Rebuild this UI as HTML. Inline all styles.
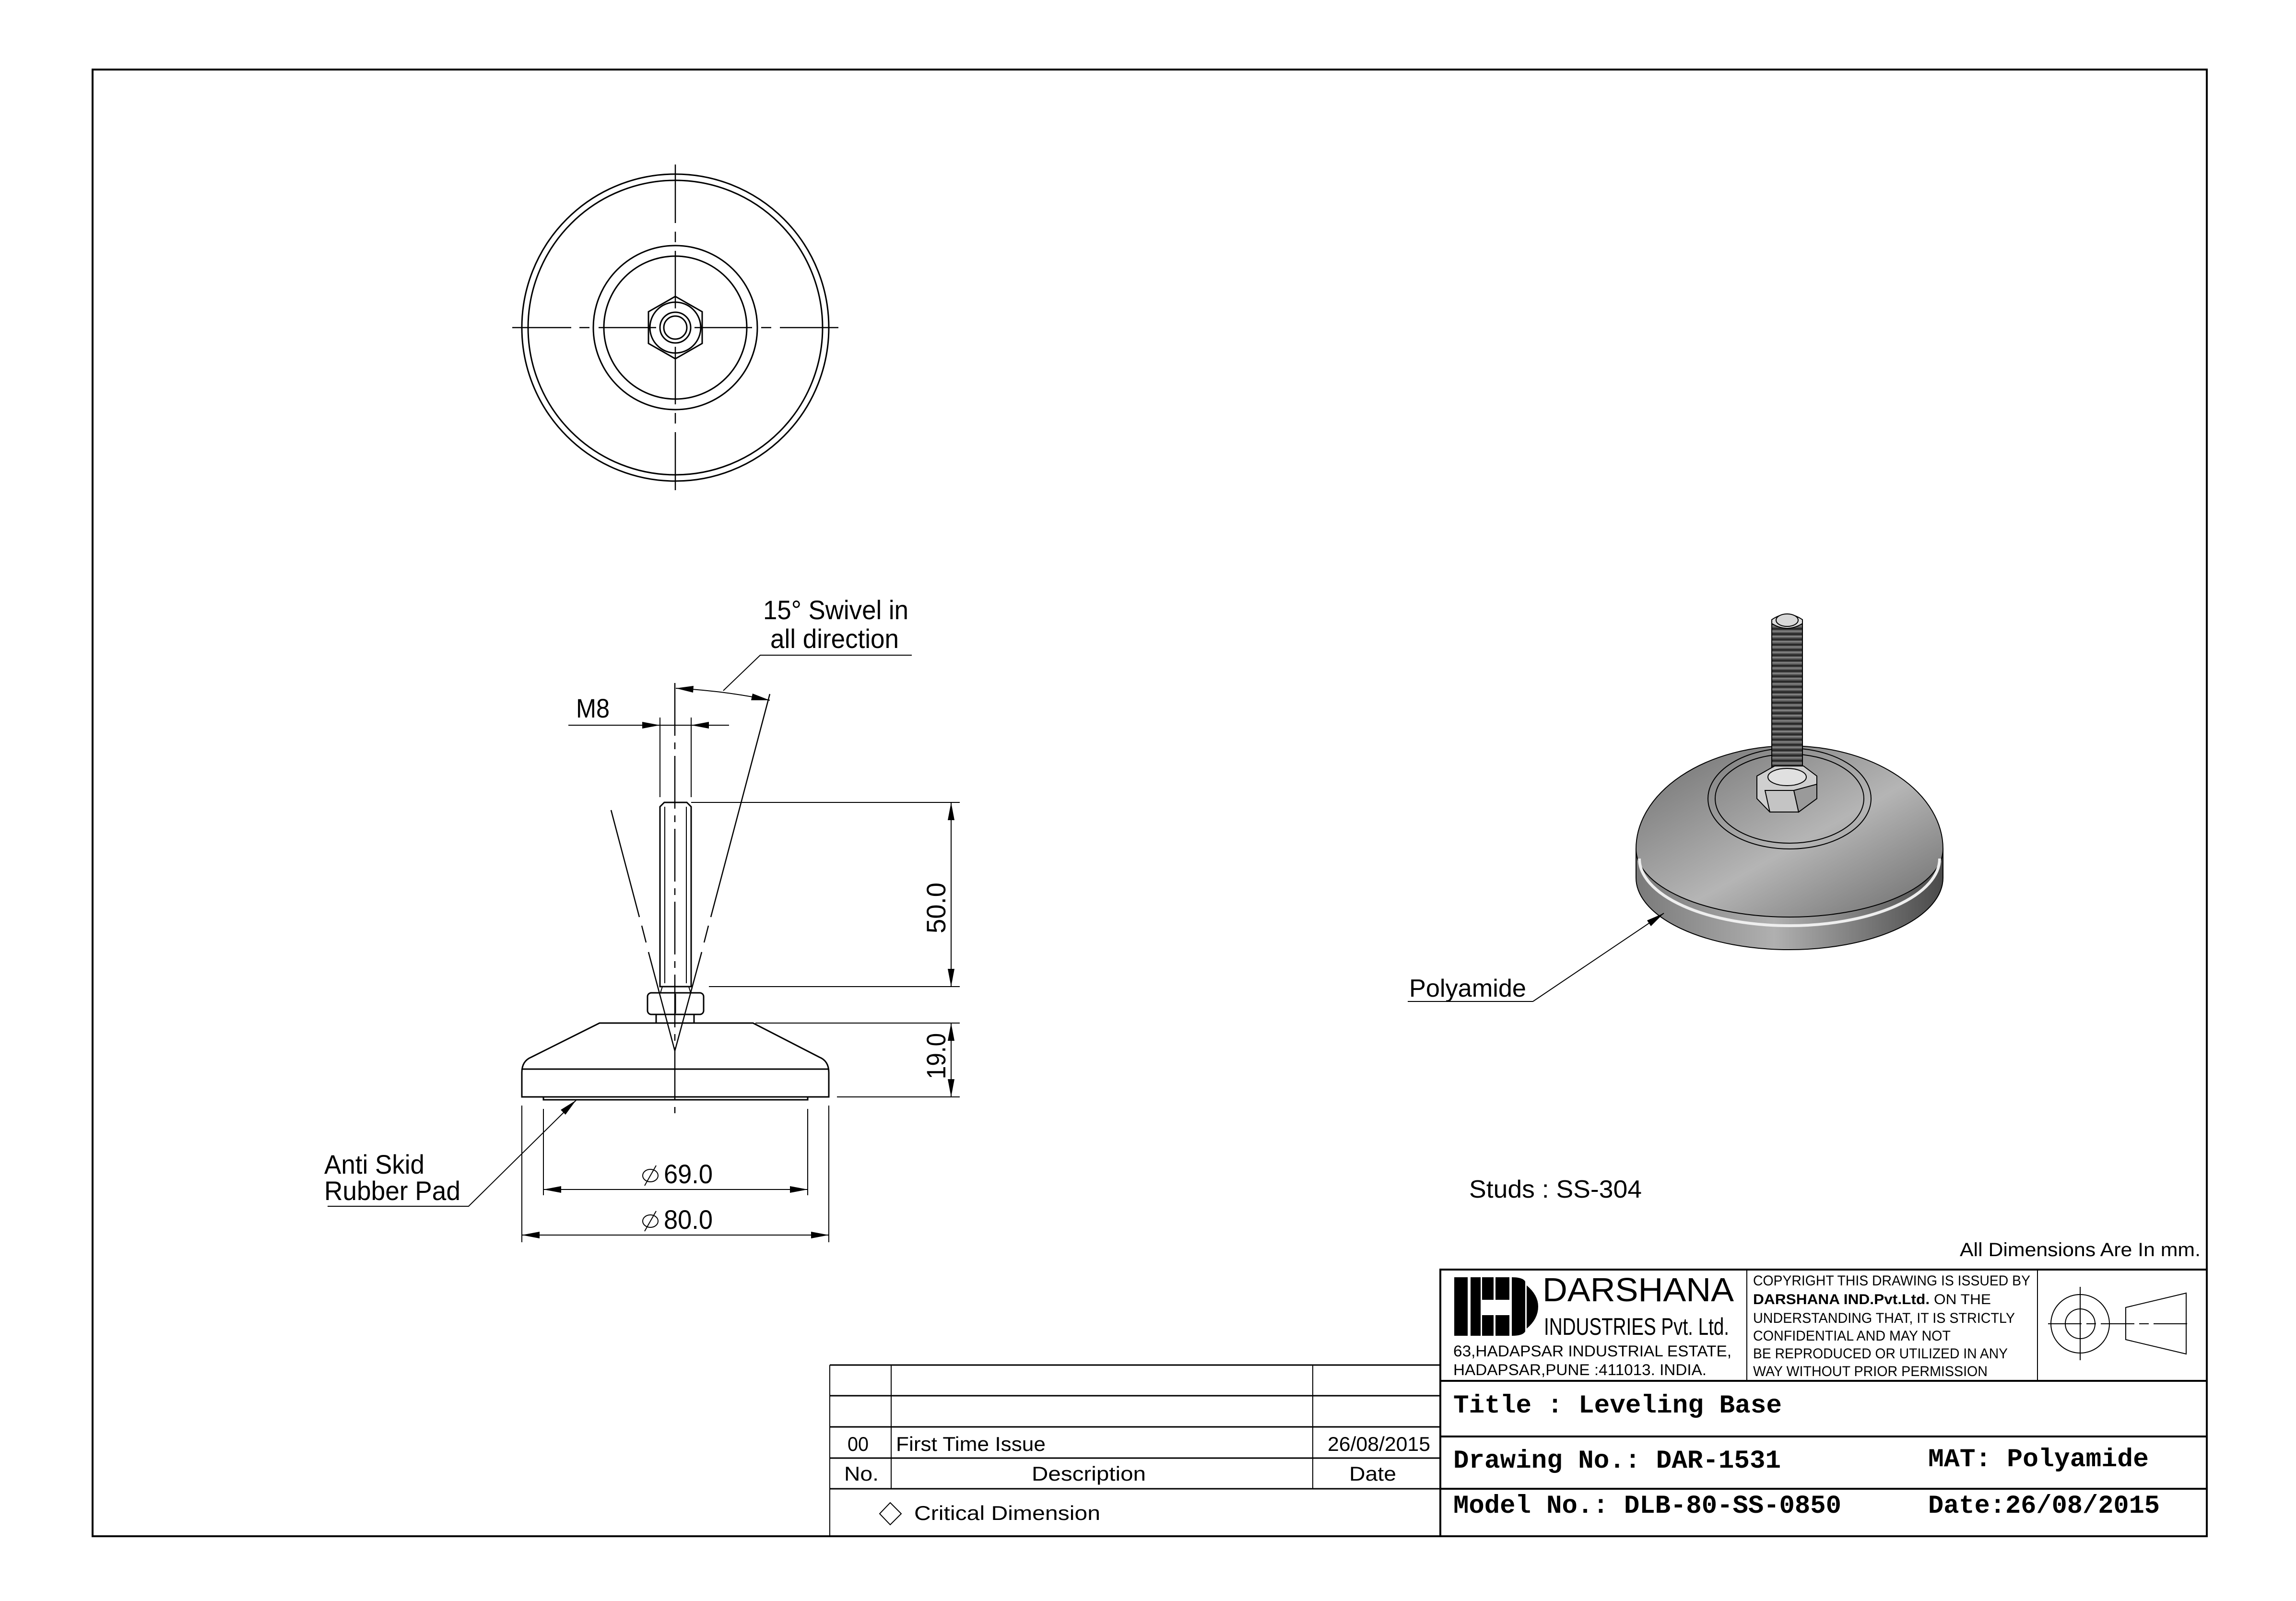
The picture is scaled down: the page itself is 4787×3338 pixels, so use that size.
<!DOCTYPE html>
<html><head><meta charset="utf-8"><style>
html,body{margin:0;padding:0;background:#fff;}
svg{display:block;}
text{font-family:"Liberation Sans",Arial,sans-serif;fill:#000;}
.m{font-family:"Liberation Mono","Courier New",monospace;font-weight:bold;}
</style></head><body>
<svg width="4787" height="3338" viewBox="0 0 4787 3338" xmlns="http://www.w3.org/2000/svg">
<defs>
<linearGradient id="gB" x1="0" x2="1" y1="0" y2="0">
<stop offset="0" stop-color="#7a7a7a"/><stop offset="0.45" stop-color="#b0b0b0"/><stop offset="1" stop-color="#4a4a4a"/></linearGradient>
<linearGradient id="gD" x1="0" x2="1" y1="0" y2="1">
<stop offset="0" stop-color="#6e6e6e"/><stop offset="0.55" stop-color="#b5b5b5"/><stop offset="1" stop-color="#6a6a6a"/></linearGradient>
<pattern id="thr" width="64" height="11" patternUnits="userSpaceOnUse">
<rect width="64" height="11" fill="#5a5a5a"/><rect y="0" width="64" height="4" fill="#2a2a2a"/><rect y="6" width="64" height="2" fill="#8a8a8a"/></pattern>
</defs>
<rect width="4787" height="3338" fill="#fff"/>
<rect x="193" y="145" width="4408" height="3058" fill="none" stroke="#000" stroke-width="4"/>

<!-- TOP VIEW -->
<g fill="none" stroke="#000" stroke-width="3">
<circle cx="1408" cy="683" r="320"/>
<circle cx="1408" cy="683" r="307"/>
<circle cx="1408" cy="683" r="171"/>
<circle cx="1408" cy="683" r="149"/>
<polygon points="1408,618 1464,650 1464,716 1408,748 1352,716 1352,650"/>
<circle cx="1408" cy="683" r="53"/>
<circle cx="1408" cy="683" r="32"/>
<circle cx="1408" cy="683" r="24"/>
</g>
<g stroke="#000" stroke-width="2.5">
<line x1="1068" y1="683" x2="1191" y2="683"/><line x1="1208" y1="683" x2="1229" y2="683"/><line x1="1248" y1="683" x2="1368" y2="683"/>
<line x1="1448" y1="683" x2="1568" y2="683"/><line x1="1587" y1="683" x2="1608" y2="683"/><line x1="1626" y1="683" x2="1748" y2="683"/>
<line x1="1408" y1="343" x2="1408" y2="465"/><line x1="1408" y1="483" x2="1408" y2="505"/><line x1="1408" y1="523" x2="1408" y2="643"/>
<line x1="1408" y1="723" x2="1408" y2="843"/><line x1="1408" y1="861" x2="1408" y2="883"/><line x1="1408" y1="901" x2="1408" y2="1022"/>
</g>

<!-- SIDE VIEW -->
<g fill="none" stroke="#000" stroke-width="3">
<path d="M1385,1673 H1432 L1441,1682 V2057 H1376 V1682 Z"/>
<line x1="1386" y1="1682" x2="1386" y2="2050" stroke-width="2"/>
<line x1="1431" y1="1682" x2="1431" y2="2050" stroke-width="2"/>
<path d="M1381,2057 H1436 L1440,2070 H1377 Z" stroke-width="2"/>
<rect x="1350" y="2070" width="117" height="45" rx="8"/>
<line x1="1408" y1="2072" x2="1408" y2="2113"/>
<rect x="1368" y="2115" width="79" height="18"/>
<path d="M1250,2133 H1570 L1708,2204 Q1728,2212 1728,2236 V2287 H1088 V2236 Q1088,2212 1108,2204 Z"/>
<line x1="1088" y1="2229" x2="1728" y2="2229"/>
<rect x="1133" y="2287" width="551" height="6"/>
</g>
<g stroke="#000" stroke-width="2.5" fill="none">
<line x1="1407" y1="1424" x2="1407" y2="2321" stroke-dasharray="110,14,14,14"/>
<line x1="1274" y1="1689" x2="1333" y2="1912"/>
<line x1="1338" y1="1930" x2="1347" y2="1965"/>
<line x1="1352" y1="1985" x2="1407" y2="2191"/>
<line x1="1605" y1="1447" x2="1482" y2="1912"/>
<line x1="1477" y1="1930" x2="1468" y2="1965"/>
<line x1="1463" y1="1985" x2="1407" y2="2191"/>
</g>
<g stroke="#000" stroke-width="2">
<line x1="1441" y1="1673" x2="2001" y2="1673"/>
<line x1="1478" y1="2057" x2="2001" y2="2057"/>
<line x1="1575" y1="2133" x2="2001" y2="2133"/>
<line x1="1745" y1="2287" x2="2001" y2="2287"/>
<line x1="1983" y1="1673" x2="1983" y2="2057"/>
<line x1="1983" y1="2133" x2="1983" y2="2287"/>
<line x1="1133" y1="2312" x2="1133" y2="2492"/>
<line x1="1684" y1="2312" x2="1684" y2="2492"/>
<line x1="1088" y1="2305" x2="1088" y2="2590"/>
<line x1="1728" y1="2305" x2="1728" y2="2590"/>
<line x1="1133" y1="2480" x2="1684" y2="2480"/>
<line x1="1088" y1="2575" x2="1728" y2="2575"/>
<line x1="1185" y1="1512" x2="1520" y2="1512"/>
<line x1="1376" y1="1496" x2="1376" y2="1662"/>
<line x1="1441" y1="1496" x2="1441" y2="1662"/>
<path d="M1409,1435 Q1510,1440 1605,1460" fill="none"/>
<polyline points="1508,1440 1585,1366 1901,1366" fill="none"/>
<polyline points="1201,2294 977,2515 683,2515" fill="none"/>
</g>
<g fill="#000">
<polygon points="1983,1673 1976,1710 1990,1710"/>
<polygon points="1983,2057 1976,2020 1990,2020"/>
<polygon points="1983,2133 1976,2170 1990,2170"/>
<polygon points="1983,2287 1976,2250 1990,2250"/>
<polygon points="1133,2480 1170,2473 1170,2487"/>
<polygon points="1684,2480 1647,2473 1647,2487"/>
<polygon points="1088,2575 1125,2568 1125,2582"/>
<polygon points="1728,2575 1691,2568 1691,2582"/>
<polygon points="1376,1512 1339,1505 1339,1519"/>
<polygon points="1441,1512 1478,1505 1478,1519"/>
<polygon points="1409,1435 1446,1430 1445,1444"/>
<polygon points="1605,1460 1569,1446 1566,1460"/>
<polygon points="1201,2294 1179,2324 1169,2314"/>
</g>
<g font-size="56">
<text transform="translate(1971,1893) rotate(-90)" text-anchor="middle" textLength="106" lengthAdjust="spacingAndGlyphs">50.0</text>
<text transform="translate(1971,2202) rotate(-90)" text-anchor="middle" textLength="96" lengthAdjust="spacingAndGlyphs">19.0</text>
<text x="1384" y="2467" textLength="102" lengthAdjust="spacingAndGlyphs">69.0</text>
<text x="1384" y="2562" textLength="102" lengthAdjust="spacingAndGlyphs">80.0</text>
<text x="1201" y="1496" textLength="70" lengthAdjust="spacingAndGlyphs">M8</text>
<text x="1591" y="1291" textLength="303" lengthAdjust="spacingAndGlyphs">15° Swivel in</text>
<text x="1606" y="1351" textLength="268" lengthAdjust="spacingAndGlyphs">all direction</text>
<text x="676" y="2447" textLength="209" lengthAdjust="spacingAndGlyphs">Anti Skid</text>
<text x="676" y="2502" textLength="284" lengthAdjust="spacingAndGlyphs">Rubber Pad</text>
</g>
<g fill="none" stroke="#000" stroke-width="2">
<ellipse cx="1356" cy="2451" rx="16" ry="13"/><line x1="1344" y1="2472" x2="1368" y2="2430"/>
<ellipse cx="1356" cy="2546" rx="16" ry="13"/><line x1="1344" y1="2567" x2="1368" y2="2525"/>
</g>

<!-- ISO VIEW -->
<g stroke="#000" stroke-width="2">
<path d="M3411,1770 V1830 A320,150 0 0 0 4051,1830 V1770 Z" fill="url(#gB)"/>
<path d="M3411,1770 A320,142 0 0 0 4051,1770 A320,215 0 0 0 3411,1770 Z" fill="url(#gD)"/>
<path d="M3418,1790 A313,140 0 0 0 4044,1790" fill="none" stroke="#eee" stroke-width="6"/>
<ellipse cx="3731" cy="1665" rx="170" ry="105" fill="none"/>
<ellipse cx="3731" cy="1665" rx="155" ry="93" fill="none"/>
<rect x="3694" y="1300" width="64" height="325" fill="url(#thr)"/>
<path d="M3694,1300 V1292 Q3726,1270 3758,1292 V1300 Q3726,1320 3694,1300 Z" fill="#ddd"/>
<ellipse cx="3726" cy="1293" rx="23" ry="13" fill="#d8d8d8"/>
<polygon points="3663,1618 3700,1597 3760,1597 3788,1618 3788,1665 3750,1693 3690,1693 3663,1665" fill="#cfcfcf"/>
<polygon points="3680,1648 3740,1648 3750,1693 3690,1693" fill="#c4c4c4"/>
<polygon points="3740,1648 3788,1635 3788,1665 3750,1693" fill="#9a9a9a"/>
<ellipse cx="3726" cy="1620" rx="40" ry="18" fill="#e0e0e0"/>
<line x1="3469" y1="1904" x2="3196" y2="2088"/>
<line x1="3196" y1="2088" x2="2935" y2="2088"/>
</g>
<polygon points="3469,1904 3442,1931 3434,1919" fill="#000"/>
<text x="2938" y="2078" font-size="52" textLength="244" lengthAdjust="spacingAndGlyphs">Polyamide</text>
<text x="3063" y="2497" font-size="52" textLength="360" lengthAdjust="spacingAndGlyphs">Studs : SS-304</text>
<text x="4588" y="2619" font-size="40" text-anchor="end" textLength="502" lengthAdjust="spacingAndGlyphs">All Dimensions Are In mm.</text>

<!-- TITLE BLOCK -->
<g stroke="#000" fill="none">
<rect x="3003" y="2647" width="1598" height="556" stroke-width="4"/>
<line x1="3003" y1="2879" x2="4601" y2="2879" stroke-width="4"/>
<line x1="3003" y1="2995" x2="4601" y2="2995" stroke-width="4"/>
<line x1="3003" y1="3104" x2="4601" y2="3104" stroke-width="4"/>
<line x1="3642" y1="2647" x2="3642" y2="2879" stroke-width="2"/>
<line x1="4248" y1="2647" x2="4248" y2="2879" stroke-width="2"/>
<circle cx="4337" cy="2760" r="61" stroke-width="2"/>
<circle cx="4337" cy="2760" r="31" stroke-width="2"/>
<line x1="4337" y1="2683" x2="4337" y2="2836" stroke-width="2"/>
<line x1="4270" y1="2760" x2="4560" y2="2760" stroke-width="2" stroke-dasharray="70,10,20,10"/>
<polygon points="4432,2726 4558,2696 4558,2823 4432,2793" stroke-width="2"/>
<line x1="1730" y1="2846" x2="3003" y2="2846" stroke-width="3"/>
<line x1="1730" y1="2910" x2="3003" y2="2910" stroke-width="3"/>
<line x1="1730" y1="2975" x2="3003" y2="2975" stroke-width="3"/>
<line x1="1730" y1="3040" x2="3003" y2="3040" stroke-width="3"/>
<line x1="1730" y1="3104" x2="3003" y2="3104" stroke-width="3"/>
<line x1="1730" y1="3203" x2="3003" y2="3203" stroke-width="4"/>
<line x1="1730" y1="2846" x2="1730" y2="3203" stroke-width="2"/>
<line x1="1858" y1="2846" x2="1858" y2="3104" stroke-width="2"/>
<line x1="2737" y1="2846" x2="2737" y2="3104" stroke-width="2"/>
<polygon points="1856,3133 1879,3156 1856,3179 1834,3156" stroke-width="2"/>
</g>
<g fill="#000">
<rect x="3032" y="2663" width="28" height="122"/>
<rect x="3066" y="2663" width="21" height="122"/>
<rect x="3090" y="2663" width="24" height="47"/>
<rect x="3090" y="2742" width="24" height="43"/>
<rect x="3118" y="2663" width="29" height="47"/>
<rect x="3118" y="2742" width="29" height="43"/>
<path d="M3152,2663 Q3175,2663 3180,2672 V2776 Q3175,2785 3152,2785 Z"/>
<path d="M3183,2680 Q3207,2700 3207,2724 Q3207,2750 3183,2770 Z"/>
</g>
<text x="3216" y="2713" font-size="70" textLength="399" lengthAdjust="spacingAndGlyphs">DARSHANA</text>
<text x="3219" y="2783" font-size="50" textLength="386" lengthAdjust="spacingAndGlyphs">INDUSTRIES Pvt. Ltd.</text>
<text x="3030" y="2828" font-size="32" textLength="580" lengthAdjust="spacingAndGlyphs">63,HADAPSAR INDUSTRIAL ESTATE,</text>
<text x="3030" y="2867" font-size="32" textLength="528" lengthAdjust="spacingAndGlyphs">HADAPSAR,PUNE :411013. INDIA.</text>
<g font-size="30">
<text x="3655" y="2680" textLength="578" lengthAdjust="spacingAndGlyphs">COPYRIGHT THIS DRAWING IS ISSUED BY</text>
<text x="3655" y="2719" textLength="496" lengthAdjust="spacingAndGlyphs"><tspan font-weight="bold">DARSHANA IND.Pvt.Ltd.</tspan> ON THE</text>
<text x="3655" y="2758" textLength="546" lengthAdjust="spacingAndGlyphs">UNDERSTANDING THAT, IT IS STRICTLY</text>
<text x="3655" y="2795" textLength="412" lengthAdjust="spacingAndGlyphs">CONFIDENTIAL AND MAY NOT</text>
<text x="3655" y="2832" textLength="531" lengthAdjust="spacingAndGlyphs">BE REPRODUCED OR UTILIZED IN ANY</text>
<text x="3655" y="2869" textLength="489" lengthAdjust="spacingAndGlyphs">WAY WITHOUT PRIOR PERMISSION</text>
</g>
<g font-size="54">
<text class="m" x="3030" y="2945" textLength="685" lengthAdjust="spacingAndGlyphs">Title : Leveling Base</text>
<text class="m" x="3030" y="3060" textLength="683" lengthAdjust="spacingAndGlyphs">Drawing No.: DAR-1531</text>
<text class="m" x="4020" y="3057" textLength="460" lengthAdjust="spacingAndGlyphs">MAT: Polyamide</text>
<text class="m" x="3030" y="3154" textLength="809" lengthAdjust="spacingAndGlyphs">Model No.: DLB-80-SS-0850</text>
<text class="m" x="4020" y="3154" textLength="483" lengthAdjust="spacingAndGlyphs">Date:26/08/2015</text>
</g>
<g font-size="42">
<text x="1789" y="3025" text-anchor="middle" textLength="44" lengthAdjust="spacingAndGlyphs">00</text>
<text x="1868" y="3025" textLength="312" lengthAdjust="spacingAndGlyphs">First Time Issue</text>
<text x="2982" y="3025" text-anchor="end" textLength="214" lengthAdjust="spacingAndGlyphs">26/08/2015</text>
<text x="1796" y="3087" text-anchor="middle" textLength="72" lengthAdjust="spacingAndGlyphs">No.</text>
<text x="2270" y="3087" text-anchor="middle" textLength="238" lengthAdjust="spacingAndGlyphs">Description</text>
<text x="2862" y="3087" text-anchor="middle" textLength="98" lengthAdjust="spacingAndGlyphs">Date</text>
<text x="1906" y="3169" textLength="388" lengthAdjust="spacingAndGlyphs">Critical Dimension</text>
</g>
</svg>
</body></html>
